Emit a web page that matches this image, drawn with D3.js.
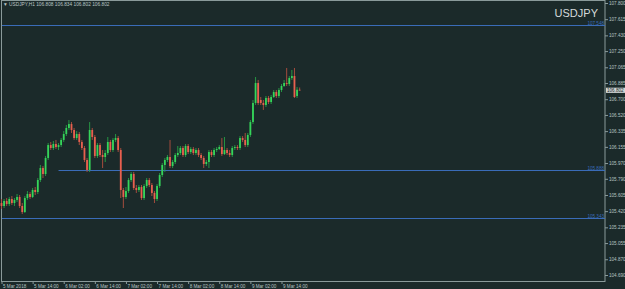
<!DOCTYPE html>
<html lang="en">
<head>
<meta charset="utf-8">
<title>USDJPY H1</title>
<script src="https://cdn.jsdelivr.net/npm/d3@7"></script>
<style>
  body { margin: 0; background: #1b2a2a; }
  svg { display: block; font-family: "Liberation Sans", Arial, sans-serif; }
</style>
</head>
<body>
<script>
// hourly bars, first bar 5 Mar 2018 02:00
var startTime = new Date(2018, 2, 5, 2);

var opens = [105.513,105.479,105.536,105.502,105.559,105.513,105.548,105.582,105.479,105.410,
  105.570,105.616,105.582,105.662,105.639,105.776,105.913,105.845,106.028,106.176,
  106.142,106.188,106.153,106.176,106.234,106.302,106.371,106.416,106.348,106.256,
  106.302,106.211,106.142,106.005,105.891,106.348,106.268,106.051,106.176,106.062,
  106.039,106.085,106.211,106.119,106.234,106.256,106.119,105.662,105.582,105.650,
  105.776,105.845,105.685,105.662,105.696,105.570,105.708,105.776,105.719,105.628,
  105.559,105.708,105.833,105.948,106.005,106.039,105.936,105.982,106.062,106.085,
  106.142,106.062,106.165,106.096,106.131,106.085,106.119,106.062,106.028,105.959,
  105.982,106.096,106.062,106.119,106.131,106.153,106.073,106.119,106.085,106.062,
  106.142,106.153,106.142,106.256,106.234,106.176,106.291,106.439,106.657,106.885,
  106.691,106.657,106.634,106.714,106.668,106.725,106.782,106.737,106.805,106.851,
  106.885,106.874,106.942,106.965,106.737,106.808];
var highs = [105.559,105.559,105.570,105.582,105.593,105.570,105.616,105.605,105.513,105.593,
  105.650,105.639,105.685,105.696,105.799,105.948,105.936,106.051,106.199,106.211,
  106.222,106.234,106.199,106.256,106.336,106.405,106.462,106.439,106.371,106.336,
  106.325,106.234,106.165,106.028,106.439,106.371,106.291,106.199,106.199,106.119,
  106.119,106.268,106.234,106.256,106.302,106.279,106.142,105.685,105.696,105.799,
  105.868,105.868,105.719,105.719,105.719,105.730,105.799,105.799,105.742,105.650,
  105.730,105.856,105.971,106.028,106.062,106.234,106.005,106.085,106.165,106.165,
  106.165,106.188,106.188,106.153,106.153,106.142,106.142,106.085,106.051,106.005,
  106.119,106.119,106.142,106.153,106.176,106.256,106.268,106.142,106.119,106.165,
  106.176,106.176,106.279,106.279,106.314,106.314,106.462,106.691,106.954,106.920,
  106.725,106.691,106.737,106.737,106.748,106.805,106.805,106.828,106.874,106.920,
  107.057,106.965,107.034,107.057,106.840,106.834];
var lows = [105.445,105.456,105.479,105.479,105.490,105.479,105.525,105.456,105.387,105.399,
  105.548,105.559,105.570,105.605,105.616,105.753,105.799,105.822,106.005,106.119,
  106.119,106.131,106.119,106.153,106.211,106.279,106.348,106.314,106.234,106.234,
  106.176,106.119,105.982,105.868,105.868,106.234,106.028,106.028,106.039,105.913,
  105.982,106.062,106.096,106.096,106.211,106.096,105.570,105.456,105.559,105.628,
  105.753,105.662,105.628,105.639,105.548,105.548,105.685,105.696,105.593,105.513,
  105.536,105.685,105.810,105.868,105.982,105.913,105.913,105.959,106.039,106.062,
  106.039,106.039,106.073,106.073,106.062,106.062,106.039,106.005,105.913,105.936,
  105.913,106.039,106.039,106.096,106.119,106.051,106.062,106.062,106.039,106.039,
  106.119,106.119,106.119,106.211,106.153,106.153,106.268,106.416,106.634,106.634,
  106.634,106.577,106.611,106.645,106.645,106.714,106.714,106.714,106.782,106.840,
  106.851,106.851,106.920,106.714,106.714,106.802];
var closes = [105.479,105.536,105.502,105.559,105.513,105.548,105.582,105.479,105.410,105.570,
  105.616,105.582,105.662,105.639,105.776,105.913,105.845,106.028,106.176,106.142,
  106.188,106.153,106.176,106.234,106.302,106.371,106.416,106.348,106.256,106.302,
  106.211,106.142,106.005,105.891,106.348,106.268,106.051,106.176,106.062,106.039,
  106.085,106.211,106.119,106.234,106.256,106.119,105.662,105.582,105.650,105.776,
  105.845,105.685,105.662,105.696,105.570,105.708,105.776,105.719,105.628,105.559,
  105.708,105.833,105.948,106.005,106.039,105.936,105.982,106.062,106.085,106.142,
  106.062,106.165,106.096,106.131,106.085,106.119,106.062,106.028,105.959,105.982,
  106.096,106.062,106.119,106.131,106.153,106.073,106.119,106.085,106.062,106.142,
  106.153,106.142,106.256,106.234,106.176,106.291,106.439,106.657,106.885,106.657,
  106.657,106.634,106.714,106.668,106.725,106.782,106.737,106.805,106.851,106.885,
  106.874,106.942,106.965,106.725,106.808,106.802];

var priceTicks = [107.800,107.615,107.430,107.250,107.065,106.885,106.700,106.520,106.335,
  106.155,105.970,105.790,105.605,105.420,105.235,105.055,104.870,104.690];
var timeTickBars = [0,12,24,36,48,60,72,84,96,108];
var timeTickLabels = ["5 Mar 2018","5 Mar 14:00","6 Mar 02:00","6 Mar 14:00","7 Mar 02:00",
  "7 Mar 14:00","8 Mar 02:00","8 Mar 14:00","9 Mar 02:00","9 Mar 14:00"];

// horizontal lines: price, first bar
var levelPrices = [107.548, 105.888, 105.343];
var levelStart = [null, 22, null];

var symbol = "USDJPY";
var header = "USDJPY,H1  106.808 106.834 106.802 106.802";
var lastPrice = 106.802;

var W = 625, H = 289;
var plotL = 1, plotR = 605, plotT = 0, plotB = 281;

var bars = closes.map(function(c, i) {
  return {t: d3.timeHour.offset(startTime, i), o: opens[i], h: highs[i], l: lows[i], c: c};
});

var x = d3.scaleTime()
  .domain([startTime, d3.timeHour.offset(startTime, 108)])
  .range([1.5, 281.5]);
var y = d3.scaleLinear().domain([104.690, 107.800]).range([275, 3]);

var svg = d3.select("body").append("svg").attr("width", W).attr("height", H);
svg.append("rect").attr("width", W).attr("height", H).attr("fill", "#1b2a2a");

var col = {up: "#35d55a", down: "#e8604f", frame: "#8a9a9a", text: "#b8c4c4", level: "#3a6cb8"};

// price axis
var yAxis = svg.append("g").attr("transform", "translate(" + plotR + ",0)")
  .call(d3.axisRight(y).tickValues(priceTicks).tickSize(3).tickPadding(1)
    .tickFormat(d3.format(".3f")));
yAxis.select(".domain").remove();
yAxis.selectAll("line").attr("stroke", col.frame);
yAxis.selectAll("text").attr("fill", col.text).attr("font-size", "4.6px")
  .attr("font-family", "Liberation Sans, Arial, sans-serif");

// time axis
var xAxis = svg.append("g").attr("transform", "translate(0," + plotB + ")")
  .call(d3.axisBottom(x)
    .tickValues(timeTickBars.map(function(b) { return d3.timeHour.offset(startTime, b); }))
    .tickSize(3).tickPadding(1)
    .tickFormat(function(d, i) { return timeTickLabels[i]; }));
xAxis.select(".domain").remove();
xAxis.selectAll("line").attr("stroke", col.frame);
xAxis.selectAll("text").attr("fill", col.text).attr("font-size", "4.6px")
  .attr("text-anchor", "start").attr("dx", "1")
  .attr("font-family", "Liberation Sans, Arial, sans-serif");

// frame
svg.append("rect")
  .attr("x", plotL + 0.5).attr("y", plotT + 0.5)
  .attr("width", plotR - plotL - 0.5).attr("height", plotB - plotT)
  .attr("fill", "none").attr("stroke", col.frame).attr("stroke-width", 1);

// levels
var lv = svg.append("g");
levelPrices.forEach(function(p, i) {
  var yy = Math.round(y(p)) + 0.5;
  var x0 = levelStart[i] == null ? plotL + 1 : x(d3.timeHour.offset(startTime, levelStart[i]));
  lv.append("line").attr("x1", x0).attr("x2", plotR).attr("y1", yy).attr("y2", yy)
    .attr("stroke", col.level).attr("stroke-width", 1);
  lv.append("text").attr("x", plotR - 1).attr("y", yy - 1).attr("text-anchor", "end")
    .attr("font-size", "4.6px").attr("fill", col.level).text(p.toFixed(3));
});

// candles
var cw = 1.8;
var g = svg.append("g");
g.selectAll("line.wick").data(bars).enter().append("line")
  .attr("class", "wick")
  .attr("x1", function(d) { return x(d.t); })
  .attr("x2", function(d) { return x(d.t); })
  .attr("y1", function(d) { return y(d.h); })
  .attr("y2", function(d) { return y(d.l); })
  .attr("stroke", function(d) { return d.c >= d.o ? "#27a046" : "#b3503f"; })
  .attr("stroke-width", 0.9);
g.selectAll("rect.body").data(bars).enter().append("rect")
  .attr("class", "body")
  .attr("x", function(d) { return x(d.t) - cw / 2; })
  .attr("width", cw)
  .attr("y", function(d) { return y(Math.max(d.o, d.c)); })
  .attr("height", function(d) { return Math.max(0.8, Math.abs(y(d.o) - y(d.c))); })
  .attr("fill", function(d) { return d.c >= d.o ? col.up : col.down; });

// current price box
var py = y(lastPrice);
svg.append("rect").attr("x", plotR + 1).attr("y", py - 2.6).attr("width", 19).attr("height", 5.2)
  .attr("fill", "#d0d6d6");
svg.append("text").attr("x", plotR + 2).attr("y", py + 1.6).attr("font-size", "4.6px")
  .attr("fill", "#1b2a2a").text(lastPrice.toFixed(3));

// header + symbol
svg.append("text").attr("x", 3).attr("y", 6).attr("font-size", "4.8px").attr("fill", col.text)
  .text("\u25BC " + header);
svg.append("text").attr("x", 598).attr("y", 16.5).attr("text-anchor", "end")
  .attr("font-size", "11px").attr("fill", "#d4dada").text(symbol);
</script>
</body>
</html>
